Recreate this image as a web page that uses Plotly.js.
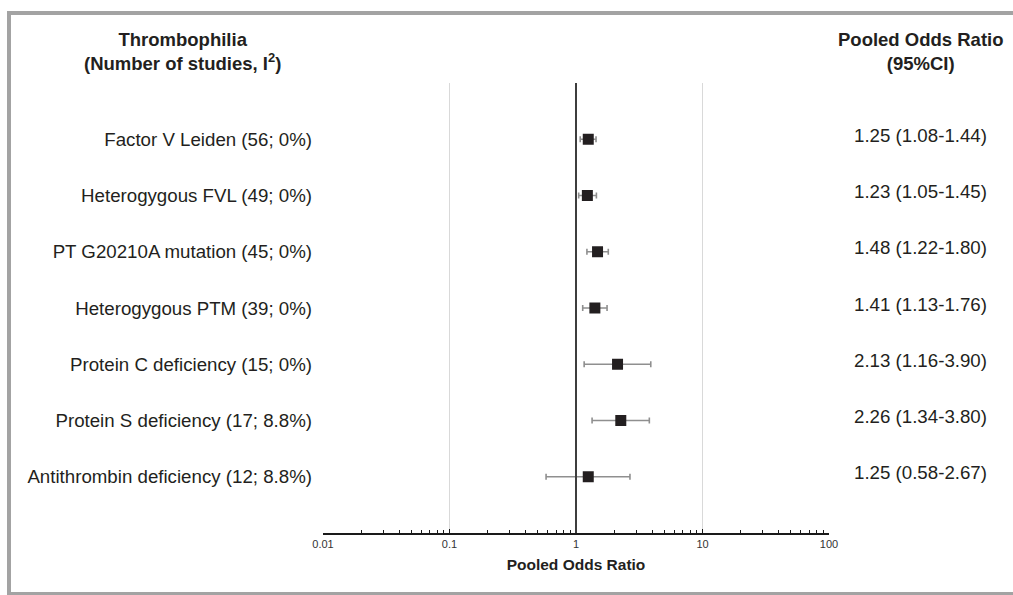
<!DOCTYPE html>
<html>
<head>
<meta charset="utf-8">
<script src="https://cdn.plot.ly/plotly-3.0.1.min.js"></script>
<style>
  html, body { margin: 0; padding: 0; background: #fff; }
  #wrap { position: relative; width: 1013px; height: 595px; overflow: hidden; }
  #chart { position: absolute; left: 0; top: 0; width: 1013px; height: 595px; }
  #frame { position: absolute; left: 7px; top: 11px; width: 1020px; height: 577px;
           border: 4px solid #a3a3a3; pointer-events: none; box-sizing: content-box; }
</style>
</head>
<body>
<div id="wrap">
  <div id="chart"></div>
  <div id="frame"></div>
</div>
<script>
// ---- data ----
const categories = [
  "Factor V Leiden (56; 0%)",
  "Heterogygous FVL (49; 0%)",
  "PT G20210A mutation (45; 0%)",
  "Heterogygous PTM (39; 0%)",
  "Protein C deficiency (15; 0%)",
  "Protein S deficiency (17; 8.8%)",
  "Antithrombin deficiency (12; 8.8%)"
];
const oddsRatio = [1.25, 1.23, 1.48, 1.41, 2.13, 2.26, 1.25];
const ciLower   = [1.08, 1.05, 1.22, 1.13, 1.16, 1.34, 0.58];
const ciUpper   = [1.44, 1.45, 1.80, 1.76, 3.90, 3.80, 2.67];
const ciLabels  = [
  "1.25 (1.08-1.44)",
  "1.23 (1.05-1.45)",
  "1.48 (1.22-1.80)",
  "1.41 (1.13-1.76)",
  "2.13 (1.16-3.90)",
  "2.26 (1.34-3.80)",
  "1.25 (0.58-2.67)"
];
const xTickVals = [0.01, 0.1, 1, 10, 100];
const xTickText = ["0.01", "0.1", "1", "10", "100"];

// ---- chart ----
const FONT = "Liberation Sans, Arial, sans-serif";
const TXT = "#231f20";

const trace = {
  type: "scatter",
  mode: "markers",
  x: oddsRatio,
  y: categories,
  marker: { symbol: "square", size: 11, color: TXT },
  error_x: {
    type: "data",
    symmetric: false,
    array: oddsRatio.map((v, i) => ciUpper[i] - v),
    arrayminus: oddsRatio.map((v, i) => v - ciLower[i]),
    color: "#8f8f8f",
    thickness: 1.6,
    width: 3
  },
  hoverinfo: "skip",
  showlegend: false
};

const annotations = [
  {
    xref: "paper", yref: "paper", x: -0.277, y: 1.071,
    xanchor: "center", yanchor: "middle", showarrow: false,
    text: "<b>Thrombophilia<br>(Number of studies, I<sup>2</sup>)</b>",
    font: { family: FONT, size: 18.5, color: TXT }
  },
  {
    xref: "paper", yref: "paper", x: 1.181, y: 1.071,
    xanchor: "center", yanchor: "middle", showarrow: false,
    text: "<b>Pooled Odds Ratio<br>(95%CI)</b>",
    font: { family: FONT, size: 18.5, color: TXT }
  }
];
categories.forEach((c, i) => {
  annotations.push({
    xref: "paper", yref: "y", x: 1.18, y: c,
    xanchor: "center", yanchor: "middle", yshift: 4, showarrow: false,
    text: ciLabels[i],
    font: { family: FONT, size: 18.7, color: TXT }
  });
});

const layout = {
  width: 1013, height: 595,
  margin: { l: 323, r: 184, t: 83, b: 62 },
  paper_bgcolor: "#ffffff",
  plot_bgcolor: "#ffffff",
  font: { family: FONT, color: TXT },
  xaxis: {
    type: "log",
    range: [-2, 2],
    tickmode: "array",
    tickvals: xTickVals,
    ticktext: xTickText,
    tickfont: { family: FONT, size: 11, color: "#333333" },
    showgrid: true,
    gridcolor: "#d9d9d9",
    gridwidth: 1,
    showline: true,
    linecolor: "#1a1a1a",
    linewidth: 1.5,
    ticks: "inside",
    ticklen: 4,
    tickcolor: "#1a1a1a",
    minor: { dtick: "D1", ticks: "inside", ticklen: 3, tickcolor: "#1a1a1a", showgrid: false },
    zeroline: false,
    fixedrange: true,
    title: {
      text: "<b>Pooled Odds Ratio</b>",
      font: { family: FONT, size: 15.5, color: TXT },
      standoff: 10
    }
  },
  yaxis: {
    type: "category",
    categoryorder: "array",
    categoryarray: categories,
    range: [categories.length, -1],
    showgrid: false,
    zeroline: false,
    showline: false,
    ticks: "",
    ticklabelstandoff: 10,
    tickfont: { family: FONT, size: 18.7, color: TXT },
    fixedrange: true
  },
  shapes: [
    {
      type: "line", xref: "x", yref: "paper",
      x0: 1, x1: 1, y0: 0, y1: 1,
      line: { color: "#3d3d3d", width: 2 }
    }
  ],
  annotations: annotations
};

Plotly.newPlot("chart", [trace], layout, { displayModeBar: false, staticPlot: true });
</script>
</body>
</html>
